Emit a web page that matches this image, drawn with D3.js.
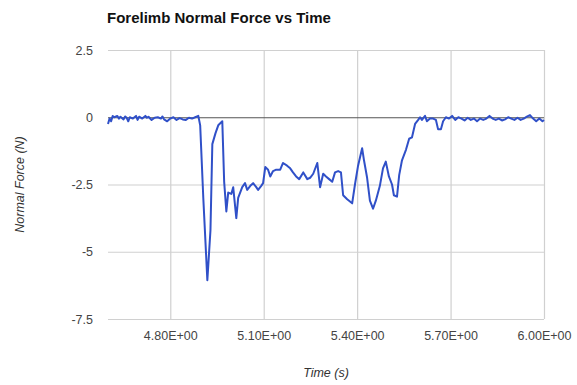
<!DOCTYPE html>
<html>
<head>
<meta charset="utf-8">
<script src="https://cdn.jsdelivr.net/npm/d3@7/dist/d3.min.js"></script>
<style>
  html, body { margin: 0; padding: 0; background: #fff; }
  svg { display: block; }
  text { font-family: "Liberation Sans", Arial, sans-serif; }
</style>
</head>
<body>
<svg id="chart" width="577" height="385"></svg>
<script>
const chartTitle = "Forelimb Normal Force vs Time";
const xTitle = "Time (s)";
const yTitle = "Normal Force (N)";
const xTicks = [4.8, 5.1, 5.4, 5.7, 6.0];
const xTickLabels = ["4.80E+00", "5.10E+00", "5.40E+00", "5.70E+00", "6.00E+00"];
const yTicks = [2.5, 0, -2.5, -5, -7.5];
const yTickLabels = ["2.5", "0", "-2.5", "-5", "-7.5"];

const time = [
  4.600, 4.605, 4.610, 4.615, 4.620, 4.630, 4.635, 4.640, 4.650, 4.655,
  4.660, 4.665, 4.670, 4.680, 4.690, 4.695, 4.700, 4.710, 4.720, 4.725,
  4.730, 4.740, 4.750, 4.760, 4.770, 4.775, 4.780, 4.790, 4.800, 4.810,
  4.820, 4.830, 4.840, 4.850, 4.860, 4.870, 4.880, 4.890, 4.896, 4.906,
  4.919, 4.929, 4.935, 4.945, 4.954, 4.967, 4.973, 4.980, 4.986, 4.996,
  5.002, 5.012, 5.018, 5.031, 5.040, 5.047, 5.057, 5.066, 5.076, 5.082,
  5.092, 5.098, 5.105, 5.114, 5.121, 5.130, 5.140, 5.153, 5.162, 5.175,
  5.185, 5.194, 5.204, 5.214, 5.227, 5.240, 5.249, 5.259, 5.272, 5.281,
  5.291, 5.300, 5.310, 5.320, 5.329, 5.339, 5.348, 5.355, 5.368, 5.384,
  5.393, 5.403, 5.416, 5.422, 5.432, 5.441, 5.451, 5.460, 5.473, 5.483,
  5.492, 5.502, 5.512, 5.518, 5.528, 5.535, 5.544, 5.557, 5.567, 5.576,
  5.586, 5.596, 5.602, 5.608, 5.618, 5.624, 5.634, 5.644, 5.653, 5.660,
  5.669, 5.676, 5.685, 5.695, 5.705, 5.715, 5.725, 5.735, 5.745, 5.755,
  5.765, 5.775, 5.785, 5.795, 5.805, 5.815, 5.825, 5.835, 5.845, 5.855,
  5.865, 5.875, 5.885, 5.895, 5.905, 5.915, 5.925, 5.935, 5.945, 5.955,
  5.965, 5.975, 5.985, 5.995, 6.000
];
const force = [
  -0.25, -0.05, -0.15, 0.05, 0.00, 0.05, -0.05, 0.02, -0.08, 0.03,
  -0.02, -0.15, 0.00, -0.05, 0.05, -0.10, 0.02, -0.05, 0.05, -0.02,
  0.02, -0.10, -0.02, 0.00, -0.05, 0.03, -0.08, -0.15, -0.05, 0.00,
  -0.10, -0.03, -0.08, -0.10, -0.02, -0.05, 0.00, 0.05, -0.30, -3.00,
  -6.06, -4.20, -1.00, -0.60, -0.30, -0.15, -2.40, -3.50, -2.80, -2.85,
  -2.60, -3.75, -3.00, -2.60, -2.45, -2.70, -2.55, -2.45, -2.60, -2.70,
  -2.55, -2.45, -1.85, -1.95, -2.20, -2.00, -1.95, -1.95, -1.70, -1.80,
  -1.90, -2.05, -2.20, -2.30, -2.05, -2.30, -2.25, -2.10, -1.70, -2.60,
  -2.10, -2.20, -2.30, -2.40, -2.05, -2.00, -2.05, -2.90, -3.05, -3.20,
  -2.50, -1.80, -1.15, -1.60, -2.25, -3.10, -3.40, -3.10, -2.55, -1.90,
  -1.65, -2.20, -2.50, -2.90, -2.95, -2.15, -1.60, -1.20, -0.80, -0.75,
  -0.25, -0.10, 0.00, -0.10, 0.05, -0.15, -0.05, -0.05, -0.10, -0.45,
  -0.45, -0.15, 0.00, -0.05, 0.05, -0.10, 0.00, -0.05, -0.12, -0.02,
  -0.10, -0.05, -0.15, -0.05, -0.10, -0.05, 0.05, -0.05, -0.10, -0.05,
  -0.12, -0.08, 0.00, -0.05, -0.10, -0.02, -0.10, -0.05, 0.02, 0.08,
  -0.05, -0.15, -0.05, -0.15, -0.10
];

const svg = d3.select("#chart");
const margin = { left: 108, right: 33, top: 50, bottom: 66 };
const W = 577, H = 385;
const x = d3.scaleLinear().domain([4.6, 6.0]).range([margin.left, W - margin.right]);
const y = d3.scaleLinear().domain([-7.5, 2.5]).range([H - margin.bottom, margin.top]);

// gridlines
const gx = svg.append("g")
  .attr("transform", `translate(0,${H - margin.bottom})`)
  .call(d3.axisBottom(x).tickValues(xTicks)
    .tickSize(-(H - margin.top - margin.bottom))
    .tickFormat((d, i) => xTickLabels[i]).tickPadding(12));
gx.select(".domain").remove();
gx.selectAll("line").attr("stroke", "#d0d0d0").attr("stroke-width", 1.2);
gx.selectAll("text").attr("fill", "#444").attr("font-size", 12.5);

const gy = svg.append("g")
  .attr("transform", `translate(${margin.left},0)`)
  .call(d3.axisLeft(y).tickValues(yTicks)
    .tickSize(-(W - margin.left - margin.right))
    .tickFormat((d, i) => yTickLabels[i]).tickPadding(15));
gy.select(".domain").remove();
gy.selectAll("line").attr("stroke", "#d0d0d0").attr("stroke-width", 1.2);
gy.selectAll(".tick").filter(d => d === 0).select("line").attr("stroke", "#555").attr("stroke-width", 1.2);
gy.selectAll("text").attr("fill", "#444").attr("font-size", 12.5);

// data line
const pts = time.map((t, i) => [t, force[i]]);
svg.append("path")
  .datum(pts)
  .attr("fill", "none")
  .attr("stroke", "#3050c8")
  .attr("stroke-width", 2)
  .attr("stroke-linejoin", "round")
  .attr("d", d3.line().x(d => x(d[0])).y(d => y(d[1])));

// titles
svg.append("text")
  .attr("x", 107).attr("y", 23)
  .attr("font-size", 15).attr("font-weight", "bold").attr("fill", "#111")
  .text(chartTitle);

svg.append("text")
  .attr("x", (margin.left + W - margin.right) / 2).attr("y", 377)
  .attr("text-anchor", "middle").attr("font-style", "italic")
  .attr("font-size", 12.5).attr("fill", "#333")
  .text(xTitle);

svg.append("text")
  .attr("transform", `translate(24,${(margin.top + H - margin.bottom) / 2}) rotate(-90)`)
  .attr("text-anchor", "middle").attr("font-style", "italic")
  .attr("font-size", 12.5).attr("fill", "#333")
  .text(yTitle);
</script>
</body>
</html>
